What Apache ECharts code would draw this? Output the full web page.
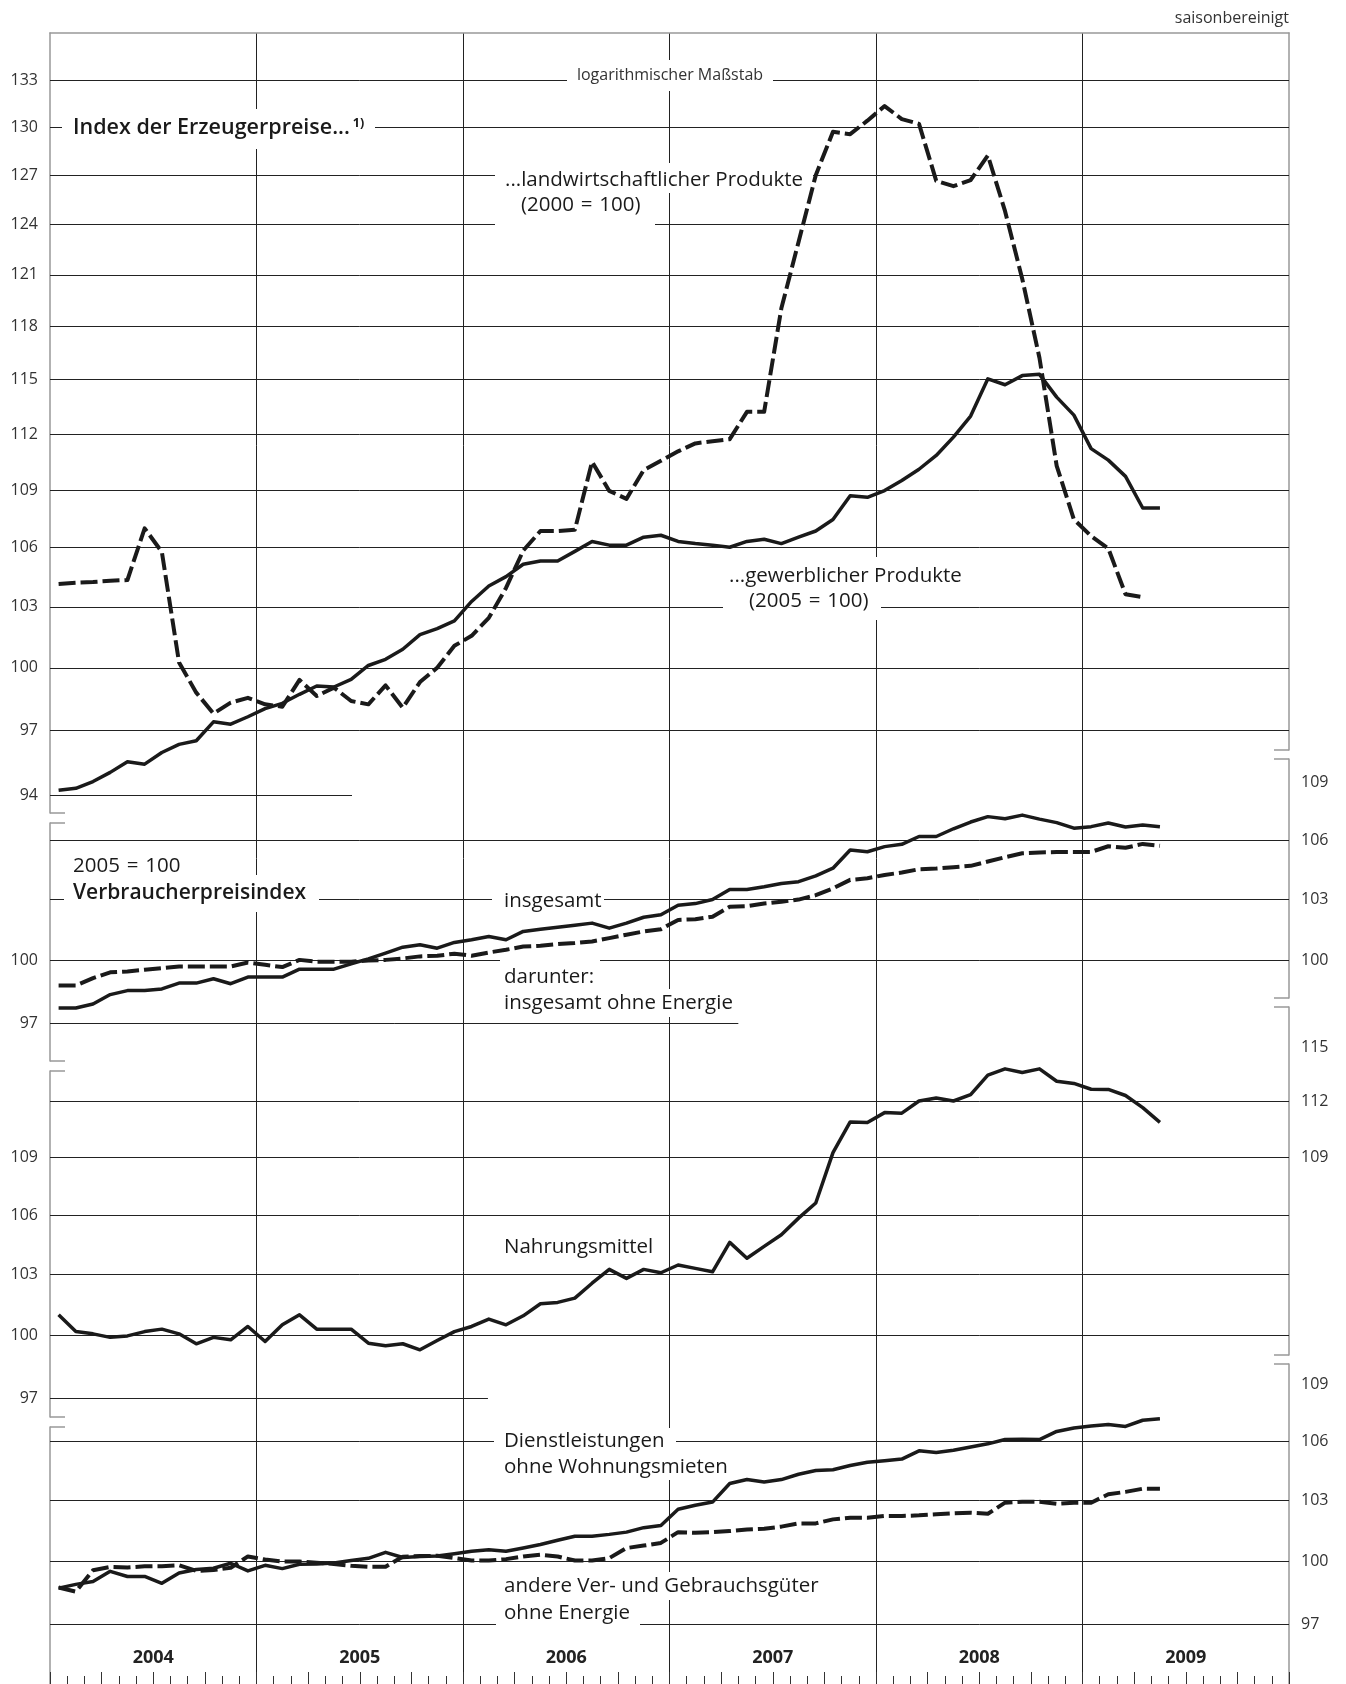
<!DOCTYPE html>
<html><head><meta charset="utf-8">
<script src="https://cdn.jsdelivr.net/npm/echarts@6/dist/echarts.min.js"></script>
<style>html,body{margin:0;padding:0;background:#fff}#c{width:1346px;height:1684px}</style>
</head><body><div id="c"></div>
<script>
// ---------- DATA (monthly, Jan 2004 onwards, seasonally adjusted) ----------
const years = ['2004','2005','2006','2007','2008','2009'];
// Index der Erzeugerpreise gewerblicher Produkte (2005 = 100), Jan 2004 - May 2009
const ppiIndustrial = [94.23,94.32,94.63,95.05,95.54,95.43,95.97,96.35,96.52,97.41,97.30,97.65,
 98.04,98.29,98.72,99.12,99.07,99.44,100.11,100.41,100.90,101.62,101.92,102.30,
 103.27,104.05,104.52,105.15,105.32,105.32,105.81,106.32,106.13,106.13,106.54,106.64,
 106.32,106.21,106.13,106.02,106.32,106.43,106.21,106.54,106.86,107.46,108.70,108.62,
 108.98,109.51,110.11,110.85,111.84,112.99,115.05,114.72,115.23,115.30,114.03,113.04,
 111.22,110.60,109.73,108.06,108.06];
// Index der Erzeugerpreise landwirtschaftlicher Produkte (2000 = 100), Jan 2004 - Apr 2009
const ppiAgricultural = [104.15,104.21,104.25,104.31,104.35,107.0,105.78,100.25,98.80,97.80,98.32,98.55,
 98.24,98.13,99.41,98.64,99.04,98.40,98.24,99.15,98.08,99.31,100.0,101.07,
 101.56,102.45,103.95,105.85,106.86,106.86,106.92,110.51,108.96,108.54,110.07,110.56,
 111.07,111.50,111.62,111.73,113.22,113.22,119.05,122.95,127.0,129.7,129.55,130.4,
 131.33,130.5,130.2,126.65,126.32,126.7,128.22,124.8,120.76,116.22,110.29,107.46,
 106.6,105.96,103.63,103.48];
// Verbraucherpreisindex (2005 = 100)
const cpiTotal = [97.72,97.72,97.91,98.36,98.55,98.55,98.63,98.91,98.91,99.12,98.88,99.20,
 99.20,99.20,99.58,99.58,99.58,99.84,100.08,100.36,100.65,100.77,100.60,100.88,
 101.01,101.17,101.01,101.42,101.53,101.63,101.73,101.83,101.58,101.83,102.12,102.24,
 102.72,102.80,103.00,103.51,103.51,103.64,103.81,103.90,104.19,104.58,105.51,105.42,
 105.68,105.80,106.20,106.20,106.60,106.95,107.23,107.12,107.31,107.10,106.92,106.63,
 106.71,106.90,106.69,106.80,106.71];
const cpiExEnergy = [98.79,98.79,99.15,99.43,99.47,99.55,99.63,99.71,99.71,99.71,99.71,99.90,
 99.79,99.68,100.03,99.94,99.94,99.94,100.00,100.03,100.10,100.20,100.23,100.33,
 100.23,100.39,100.52,100.68,100.72,100.80,100.85,100.93,101.09,101.26,101.42,101.53,
 101.99,102.02,102.15,102.64,102.67,102.80,102.89,103.00,103.22,103.56,103.99,104.07,
 104.24,104.36,104.53,104.56,104.63,104.70,104.92,105.14,105.34,105.38,105.40,105.40,
 105.41,105.70,105.62,105.82,105.72];
const cpiFood = [101.0,100.18,100.07,99.90,99.97,100.18,100.30,100.07,99.59,99.90,99.78,100.43,
 99.70,100.51,101.0,100.30,100.30,100.30,99.62,99.49,99.59,99.30,99.75,100.18,
 100.43,100.79,100.51,100.95,101.54,101.61,101.82,102.56,103.25,102.80,103.25,103.08,
 103.47,103.30,103.13,104.61,103.81,104.41,105.0,105.85,106.63,109.27,110.91,110.88,
 111.41,111.38,112.04,112.20,112.04,112.39,113.46,113.80,113.60,113.80,113.12,113.0,
 112.68,112.67,112.34,111.68,110.88];
const cpiServices = [98.72,98.90,99.04,99.53,99.28,99.28,98.95,99.45,99.62,99.68,99.92,99.55,
 99.82,99.66,99.87,99.88,99.93,100.05,100.16,100.45,100.20,100.25,100.27,100.38,
 100.50,100.58,100.50,100.66,100.83,101.04,101.24,101.24,101.33,101.44,101.66,101.77,
 102.57,102.77,102.93,103.86,104.06,103.94,104.06,104.33,104.52,104.56,104.77,104.94,
 105.02,105.10,105.52,105.44,105.55,105.72,105.88,106.10,106.11,106.10,106.52,106.70,
 106.80,106.88,106.78,107.10,107.18];
const cpiOtherGoods = [98.75,98.55,99.58,99.74,99.72,99.77,99.78,99.82,99.55,99.59,99.70,100.25,
 100.10,100.0,100.0,99.95,99.88,99.80,99.75,99.75,100.24,100.27,100.28,100.17,
 100.05,100.05,100.12,100.25,100.33,100.25,100.05,100.05,100.17,100.66,100.78,100.91,
 101.44,101.41,101.44,101.49,101.57,101.61,101.71,101.87,101.87,102.07,102.15,102.15,
 102.24,102.24,102.27,102.32,102.37,102.40,102.35,102.90,102.95,102.95,102.85,102.90,
 102.90,103.32,103.44,103.60,103.60];
// tick labels
const ticksP1Left = [94,97,100,103,106,109,112,115,118,121,124,127,130,133];
const ticksP2Left = [97,100];
const ticksP2Right = [100,103,106,109];
const ticksP3Left = [97,100,103,106,109];
const ticksP3Right = [109,112,115];
const ticksP4Right = [97,100,103,106,109];

// ---------- LAYOUT ----------
const FONT = '"Open Sans","Noto Sans","DejaVu Sans",sans-serif';
const LEFT = 50, RIGHT = 57;
const S = 1000;            // log axis units: S * ln(value)
const K = 2061 / S;        // px per log unit (common scale for all panels)
const lg = v => S * Math.log(v);
const AXIS = '#999', GRID = '#222', INK = '#1a1a1a';
const EQ = '\u2004=\u2004';
const panels = [
  {ref:133, refY:80,   L:[33,813],    R:[33,750],    labelsL:ticksP1Left, labelsR:[], capsL:['min'], capsR:['min'],
   full:[97,100,103,106,109,112,115,118,121,124,127,130,133], partial:[[94,0,17.55]]},
  {ref:100, refY:960.5, L:[823,1061], R:[759,998],   labelsL:ticksP2Left, labelsR:ticksP2Right, capsL:['min','max'], capsR:['min','max'],
   full:[100,103,106], partial:[[109,23.06,72],[97,0,40]]},
  {ref:100, refY:1335.3, L:[1071,1417], R:[1007,1355], labelsL:ticksP3Left, labelsR:ticksP3Right, capsL:['min','max'], capsR:['min','max'],
   full:[100,103,106,109,112], partial:[[115,46.4,72],[97,0,25.45]]},
  {ref:100, refY:1561.6, L:[1427,1684], R:[1364,1684], labelsL:[], labelsR:ticksP4Right, capsL:['max'], capsR:['max'],
   full:[97,100,103,106], partial:[[109,34.4,72]]}
];

const grids = [], xAxes = [], yAxes = [];
grids.push({left:LEFT, right:RIGHT, top:33, bottom:0});
grids.push({left:LEFT, right:RIGHT, top:1623, bottom:0});
xAxes.push({gridIndex:0, type:'value', min:0, max:72, interval:12, position:'top',
  axisLine:{show:true, onZero:false, lineStyle:{color:AXIS, width:1.5}},
  axisTick:{show:false}, axisLabel:{show:false},
  splitLine:{show:true, showMinLine:false, showMaxLine:false, lineStyle:{color:GRID, width:1}}});
xAxes.push({gridIndex:1, type:'value', min:0, max:72, interval:3, position:'bottom',
  axisLine:{show:false, onZero:false},
  axisTick:{show:true, inside:true, length:12, lineStyle:{color:'#333', width:1}},
  minorTick:{show:true, splitNumber:3, length:8, lineStyle:{color:'#333', width:1}},
  axisLabel:{show:false}, splitLine:{show:false}, minorSplitLine:{show:false}});
xAxes.push({gridIndex:1, type:'category', data:years, position:'top', boundaryGap:true,
  axisLine:{show:false, onZero:false}, axisTick:{show:false}, splitLine:{show:false},
  axisLabel:{inside:true, interval:0, margin:35, verticalAlign:'middle', fontSize:18, fontWeight:'bold', color:'#222', fontFamily:FONT}});
yAxes.push({gridIndex:0, type:'value', min:0, max:1, show:false});
yAxes.push({gridIndex:1, type:'value', min:0, max:1, show:false});

function addAxisPair(p, side) {
  const [T, B] = p[side];
  const gi = grids.length;
  grids.push({left:LEFT, right:RIGHT, top:T, height:B - T});
  const lr = lg(p.ref);
  const max = lr + (p.refY - T) / K, min = lr - (B - p.refY) / K;
  const caps = (side === 'L' ? p.capsL : p.capsR).map(c => c === 'min' ? min : max);
  const labels = side === 'L' ? p.labelsL : p.labelsR;
  xAxes.push({gridIndex:gi, type:'value', min:0, max:72, show:false});
  yAxes.push({gridIndex:gi, type:'value', min:min, max:max, position: side === 'L' ? 'left' : 'right',
    axisLine:{show:true, onZero:false, lineStyle:{color:AXIS, width:1.5}},
    axisTick:{show:caps.length > 0, inside:true, length:15, customValues:caps, lineStyle:{color:AXIS, width:1.5}},
    axisLabel:{show:labels.length > 0, customValues:labels.map(lg),
      formatter: v => String(Math.round(Math.exp(v / S))), margin:12, fontSize:16, color:'#333', fontFamily:FONT},
    splitLine:{show:false}});
  return gi;
}
panels.forEach(p => { p.gL = addAxisPair(p, 'L'); p.gR = addAxisPair(p, 'R'); });

function gridMarks(p) {
  const data = p.full.map(v => ({yAxis: lg(v)}));
  p.partial.forEach(([v, a, b]) => data.push([{coord:[a, lg(v)]}, {coord:[b, lg(v)]}]));
  return {silent:true, symbol:['none','none'], z:1, precision:8, animation:false, label:{show:false},
    lineStyle:{color:GRID, width:1, type:'solid'}, emphasis:{disabled:true}, data};
}
function lineSeries(name, values, gi, dashed, marks) {
  const s = {type:'line', name, xAxisIndex:gi + 1, yAxisIndex:gi,
    data: values.map((v, i) => [i + 0.5, lg(v)]),
    showSymbol:false, symbol:'none', clip:false, z:2, silent:true, animation:false,
    lineStyle:{color:INK, width: dashed ? 4 : 3.5, type: dashed ? [17, 5] : 'solid', join:'round'},
    emphasis:{disabled:true}};
  if (marks) s.markLine = marks;
  return s;
}
const series = [
  lineSeries('gewerbliche Produkte', ppiIndustrial, panels[0].gL, false, gridMarks(panels[0])),
  lineSeries('landwirtschaftliche Produkte', ppiAgricultural, panels[0].gL, true),
  lineSeries('insgesamt', cpiTotal, panels[1].gL, false, gridMarks(panels[1])),
  lineSeries('insgesamt ohne Energie', cpiExEnergy, panels[1].gL, true),
  lineSeries('Nahrungsmittel', cpiFood, panels[2].gL, false, gridMarks(panels[2])),
  lineSeries('Dienstleistungen ohne Wohnungsmieten', cpiServices, panels[3].gL, false, gridMarks(panels[3])),
  lineSeries('andere Ver- und Gebrauchsgüter ohne Energie', cpiOtherGoods, panels[3].gL, true)
];

// white boxes behind annotation texts (cover grid lines)
const boxes = [[62,109,313,40],[567,60,206,31],[495,163,318,30],[495,193,160,33],
  [723,557,250,32],[723,589,158,31],[64,875,255,37],[492,885,112,30],
  [500,956,100,33],[500,989,240,28],[494,1428,182,27],[494,1455,240,25],
  [496,1572,335,28],[496,1600,144,30]];
const notes = [
  ['...landwirtschaftlicher Produkte', 505, 180],
  ['(2000' + EQ + '100)', 521, 205],
  ['...gewerblicher Produkte', 729, 576],
  ['(2005' + EQ + '100)', 749, 601],
  ['2005' + EQ + '100', 73, 866],
  ['Verbraucherpreisindex', 73, 893, 600, 21],
  ['insgesamt', 504, 901],
  ['darunter:', 504, 977],
  ['insgesamt ohne Energie', 504, 1003],
  ['Nahrungsmittel', 504, 1247],
  ['Dienstleistungen', 504, 1441],
  ['ohne Wohnungsmieten', 504, 1467],
  ['andere Ver- und Gebrauchsgüter', 504, 1586],
  ['ohne Energie', 504, 1613]
];
const elements = [];
boxes.forEach(b => elements.push({type:'rect', z:1.5, silent:true, shape:{x:b[0], y:b[1], width:b[2], height:b[3]}, style:{fill:'#fff'}}));
notes.forEach(n => elements.push({type:'text', z:10, silent:true, x:n[1], y:n[2],
  style:{text:n[0], fill:INK, fontSize:n[4] || 20.5, fontFamily:FONT, fontWeight:n[3] || 'normal',
    align:'left', verticalAlign:'middle', textAlign:'left', textVerticalAlign:'middle'}}));
elements.push({type:'text', z:10, silent:true, x:73, y:128,
  style:{text:'{a|Index der Erzeugerpreise...}{b|1)}', fill:INK, align:'left', verticalAlign:'middle', textAlign:'left', textVerticalAlign:'middle',
    rich:{a:{fontSize:21.5, fontWeight:600, fontFamily:FONT, fill:INK, color:INK},
          b:{fontSize:12.5, fontWeight:700, fontFamily:FONT, fill:INK, color:INK, verticalAlign:'top', padding:[0,0,0,3]}}}});
elements.push({type:'text', z:10, silent:true, x:670, y:75,
  style:{text:'logarithmischer Maßstab', fill:'#333', fontSize:16, fontFamily:FONT, align:'center', verticalAlign:'middle', textAlign:'center', textVerticalAlign:'middle'}});
elements.push({type:'text', z:10, silent:true, x:1289, y:18,
  style:{text:'saisonbereinigt', fill:'#333', fontSize:16, fontFamily:FONT, align:'right', verticalAlign:'middle', textAlign:'right', textVerticalAlign:'middle'}});

const chart = echarts.init(document.getElementById('c'), null, {renderer:'canvas'});
chart.setOption({
  animation:false,
  backgroundColor:'#fff',
  grid:grids, xAxis:xAxes, yAxis:yAxes, series,
  graphic:{elements}
});
</script>
</body></html>
